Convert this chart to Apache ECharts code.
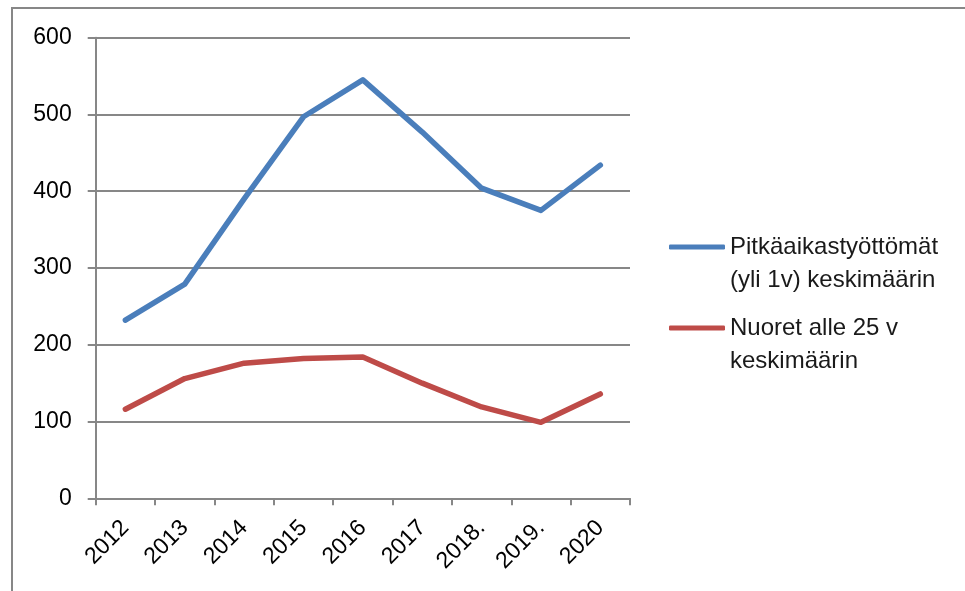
<!DOCTYPE html>
<html>
<head>
<meta charset="utf-8">
<script src="https://cdn.jsdelivr.net/npm/echarts@6/dist/echarts.min.js"></script>
<style>
  html, body { margin: 0; padding: 0; background: #fff; }
  #chart { width: 965px; height: 591px; }
</style>
</head>
<body>
<div id="chart"></div>
<script>
// Years on the category axis
const years = ['2012', '2013', '2014', '2015', '2016', '2017', '2018.', '2019.', '2020'];

// Long-term unemployed (over 1 year), yearly average
const longTerm = [232, 279, 390, 497, 545, 477, 404, 375, 434];

// Young people under 25, yearly average
const youth = [116, 156, 176, 182, 184, 150, 119, 99, 136];

// Series names as shown in the legend
const nameLongTerm = 'Pitkäaikastyöttömät\n(yli 1v) keskimäärin';
const nameYouth = 'Nuoret alle 25 v\nkeskimäärin';

const gray = '#878787';
const font = 'Liberation Sans, Arial, sans-serif';

const chart = echarts.init(document.getElementById('chart'));

function legendFor(name, color, top) {
  return {
    data: [{ name: name, icon: 'roundRect', itemStyle: { color: color } }],
    orient: 'vertical',
    left: 669,
    top: top,
    itemWidth: 56,
    itemHeight: 5,
    itemGap: 0,
    padding: 0,
    selectedMode: false,
    // a leading blank line keeps the first text line level with the icon
    formatter: n => '\n' + n,
    textStyle: { fontFamily: font, fontSize: 24, color: '#1a1a1a', lineHeight: 33 }
  };
}

chart.setOption({
  animation: false,
  backgroundColor: '#fff',
  graphic: [{
    type: 'rect',
    shape: { x: 12, y: 8, width: 1200, height: 1000 },
    style: { fill: 'none', stroke: gray, lineWidth: 2 },
    silent: true
  }],
  grid: { left: 95.7, right: 335, top: 37.7, bottom: 92.7 },
  legend: [
    legendFor(nameLongTerm, '#4A7EBB', 197.5),
    legendFor(nameYouth, '#BE4B48', 278.5)
  ],
  xAxis: {
    type: 'category',
    data: years,
    boundaryGap: true,
    axisLine: { show: true, lineStyle: { color: gray, width: 2 } },
    axisTick: { show: true, length: 7, lineStyle: { color: gray, width: 2 } },
    axisLabel: {
      rotate: 45, margin: 26, fontFamily: font, fontSize: 23, color: '#000', interval: 0
    },
    splitLine: { show: false }
  },
  yAxis: {
    type: 'value',
    min: 0, max: 600, interval: 100,
    axisLine: { show: true, lineStyle: { color: gray, width: 2 } },
    axisTick: { show: true, length: 8, lineStyle: { color: gray, width: 2 } },
    axisLabel: { margin: 24, fontFamily: font, fontSize: 23, color: '#000' },
    splitLine: { show: true, lineStyle: { color: gray, width: 2 } }
  },
  series: [
    {
      name: nameLongTerm, type: 'line', data: longTerm,
      symbol: 'none', lineStyle: { color: '#4A7EBB', width: 5.5, cap: 'round', join: 'round' },
      itemStyle: { color: '#4A7EBB' }
    },
    {
      name: nameYouth, type: 'line', data: youth,
      symbol: 'none', lineStyle: { color: '#BE4B48', width: 5.5, cap: 'round', join: 'round' },
      itemStyle: { color: '#BE4B48' }
    }
  ]
});
</script>
</body>
</html>
